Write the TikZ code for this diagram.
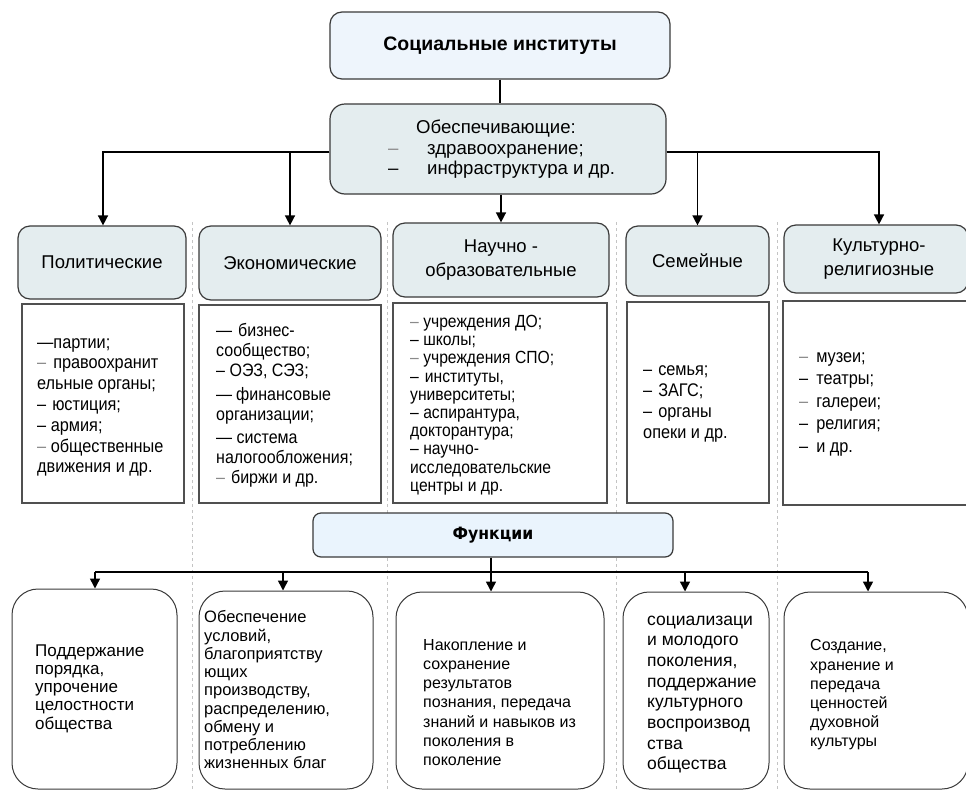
\documentclass[tikz,border=0pt]{standalone}
\usepackage{fontspec}
\setmainfont{Liberation Sans}
\newfontfamily\narrowfont{Liberation Sans}[FakeStretch=0.89]
\newfontfamily\funcfont{DejaVu Sans}[FakeStretch=0.92]
\usetikzlibrary{arrows.meta}
\definecolor{bordc}{HTML}{3A3A3A}
\definecolor{lstc}{HTML}{505050}
\definecolor{hdrfill}{HTML}{E4EDEF}
\definecolor{topfill}{HTML}{EEF5FC}
\definecolor{funfill}{HTML}{EAF4FD}
\definecolor{sepc}{HTML}{C4C4C4}
\definecolor{dashgray}{HTML}{8A8A8A}
\newcommand{\gd}{\textcolor{dashgray}{–}}
\tikzset{
  hdr/.style={draw=bordc, line width=1.2pt, fill=hdrfill, rounded corners=12pt, inner sep=0pt, align=center, font=\fontsize{18.5}{24.5}\selectfont},
  lst/.style={draw=lstc, line width=1.2pt, fill=white, inner sep=0pt},
  fnbox/.style={draw=bordc, line width=1pt, fill=white, rounded corners=26pt, inner sep=0pt},
  txt/.style={anchor=west, align=left, inner sep=0pt, text=black},
  sep/.style={draw=sepc, line width=0.8pt, dash pattern=on 3pt off 3pt},
  conn/.style={draw=black, line width=1.5pt},
  arr/.style={draw=black, line width=1.5pt, -{Triangle[width=10pt,length=10pt]}}
}
\begin{document}
\begin{tikzpicture}[x=1pt, y=-1pt]
\fill[white] (0,0) rectangle (966,790);
\useasboundingbox (0,0) rectangle (966,790);

% separators
\foreach \sx in {192,387,616,777} {\draw[sep] (\sx,222) -- (\sx,790);}

% top
\node[draw=bordc, line width=1.2pt, fill=topfill, rounded corners=12pt, minimum width=340pt, minimum height=67pt, inner sep=0pt, font=\bfseries\fontsize{19.5}{22}\selectfont] (top) at (500,45.5) {Социальные институты};

\node[draw=bordc, line width=1.2pt, fill=hdrfill, rounded corners=15pt, minimum width=336pt, minimum height=90pt, inner sep=0pt] (obesp) at (498,149) {};
\node[txt, font=\fontsize{18.6}{20.5}\selectfont] (obtxt) at (388,149.5) {\hspace*{28pt}Обеспечивающие:\\\makebox[39pt][l]{\gd}здравоохранение;\\\makebox[39pt][l]{–}инфраструктура и~др.};

% category headers
\node[hdr, minimum width=168pt, minimum height=73pt] (pol) at (102,262.5) {Политические};
\node[hdr, minimum width=182pt, minimum height=74pt] (econ) at (290,263) {Экономические};
\node[hdr, minimum width=216pt, minimum height=74pt] (nauch) at (501,260) {Научно -\\образовательные};
\node[hdr, minimum width=143pt, minimum height=70pt] (sem) at (697.5,261) {Семейные};
\node[hdr, minimum width=184pt, minimum height=68pt] (kult) at (876,259) {\hspace*{6pt}Культурно-\\\hspace*{6pt}религиозные};

% connectors top
\draw[conn] (top.south) -- (top.south |- obesp.north);
\draw[arr] ([yshift=-3pt]obesp.west) -| ([xshift=1pt]pol.north);
\draw[arr] ([yshift=-3pt]obesp.west) -| (econ.north);
\draw[arr] (nauch.north |- obesp.south) -- (nauch.north);
\draw[arr] ([yshift=-3pt]obesp.east) -| (sem.north);
\draw[arr] ([yshift=-3pt]obesp.east) -| ([xshift=3pt]kult.north);

% lists
\node[lst, minimum width=162pt, minimum height=199pt] (pl) at (103,403.5) {};
\node[lst, minimum width=182pt, minimum height=198pt] (el) at (290,404) {};
\node[lst, minimum width=214pt, minimum height=200pt] (nl) at (500,403) {};
\node[lst, minimum width=142pt, minimum height=201pt] (sl) at (698,402.5) {};
\node[lst, minimum width=185pt, minimum height=204pt] (kl) at (875.5,403) {};

\node[txt, font=\narrowfont\fontsize{18.3}{20.8}\selectfont] (pltxt) at (37,407.5) {—партии;\\\gd\hspace{7pt}правоохранит\\ельные органы;\\–\hspace{6pt}юстиция;\\– армия;\\\gd{} общественные\\движения и~др.};
\node[txt, font=\narrowfont\fontsize{18}{20}\selectfont] (eltxt) at (216,405) {—\hspace{6pt}бизнес-\\сообщество;\\– ОЭЗ, СЭЗ;\\[4pt]—\hspace{4pt}финансовые\\организации;\\[3pt]— система\\налогообложения;\\\gd\hspace{6pt}биржи и~др.};
\node[txt, font=\narrowfont\fontsize{17.6}{18.2}\selectfont] (nltxt) at (410,405) {\gd{} учреждения ДО;\\– школы;\\\gd{} учреждения СПО;\\–\hspace{6pt}институты,\\университеты;\\– аспирантура,\\докторантура;\\– научно-\\исследовательские\\центры и~др.};
\node[txt, font=\narrowfont\fontsize{18.3}{21.3}\selectfont] (sltxt) at (643,404) {–\hspace{6pt}семья;\\–\hspace{6pt}ЗАГС;\\–\hspace{6pt}органы\\опеки и~др.};
\node[txt, font=\narrowfont\fontsize{18.3}{22.5}\selectfont] (kltxt) at (799,404) {\gd\hspace{8pt}музеи;\\–\hspace{8pt}театры;\\\gd\hspace{8pt}галереи;\\–\hspace{8pt}религия;\\–\hspace{8pt}и~др.};

% functions
\node[draw=bordc, line width=1.2pt, fill=funfill, rounded corners=8pt, minimum width=360pt, minimum height=44pt, inner sep=0pt, font=\funcfont\bfseries\fontsize{17}{20}\selectfont] (func) at (493,535) {Функции};

\node[fnbox, minimum width=165pt, minimum height=200pt] (f1) at (94.5,689) {};
\node[fnbox, minimum width=174pt, minimum height=198pt] (f2) at (286,690) {};
\node[fnbox, minimum width=208pt, minimum height=197pt] (f3) at (500,690.5) {};
\node[fnbox, minimum width=146pt, minimum height=197pt] (f4) at (696,690.5) {};
\node[fnbox, minimum width=184pt, minimum height=197pt] (f5) at (876,690.5) {};

\coordinate (h1) at (95,572);
\coordinate (h2) at (283,572);
\coordinate (h3) at (491,572);
\coordinate (h4) at (685,572);
\coordinate (h5) at (868,572);
\draw[conn] (func.south -| h3) -- (h3);
\draw[conn] (h1) -- (h5);
\draw[arr] (h1) -- (h1 |- f1.north);
\draw[arr] (h2) -- (h2 |- f2.north);
\draw[arr] (h3) -- (h3 |- f3.north);
\draw[arr] (h4) -- (h4 |- f4.north);
\draw[arr] (h5) -- (h5 |- f5.north);

\node[txt, font=\fontsize{17}{18.25}\selectfont] (f1txt) at (35,688.5) {Поддержание\\порядка,\\упрочение\\целостности\\общества};
\node[txt, font=\fontsize{16.5}{18.25}\selectfont] (f2txt) at (204,690) {Обеспечение\\условий,\\благоприятству\\ющих\\производству,\\распределению,\\обмену и\\потреблению\\жизненных благ};
\node[txt, font=\fontsize{16}{19.2}\selectfont] (f3txt) at (423,702.5) {Накопление и\\сохранение\\результатов\\познания, передача\\знаний и навыков из\\поколения в\\поколение};
\node[txt, font=\fontsize{17.5}{20.7}\selectfont] (f4txt) at (647,694.5) {социализаци\\и молодого\\поколения,\\поддержание\\культурного\\воспроизвод\\ства\\общества};
\node[txt, font=\fontsize{16}{19.2}\selectfont] (f5txt) at (810,695) {Создание,\\хранение и\\передача\\ценностей\\духовной\\культуры};
\end{tikzpicture}
\end{document}
